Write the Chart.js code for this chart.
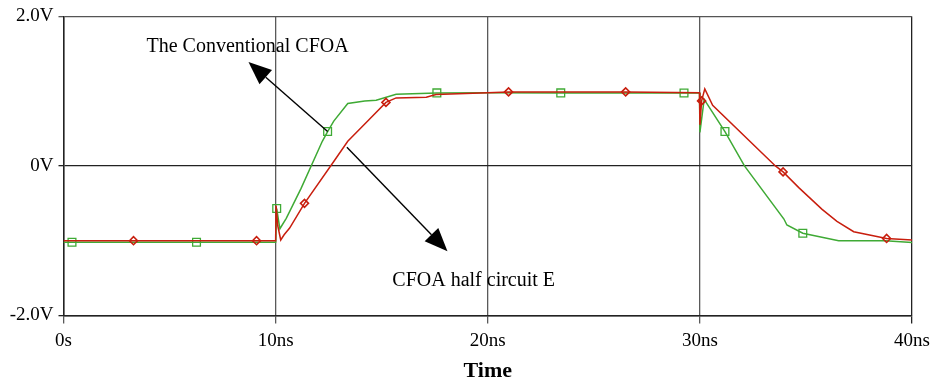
<!DOCTYPE html>
<html>
<head>
<meta charset="utf-8">
<script src="https://cdn.jsdelivr.net/npm/chart.js@4.4.1/dist/chart.umd.min.js"></script>
<style>
    body { margin: 0; background: #fff; }
    #wrap { width: 936px; height: 385px; position: relative; }
</style>
</head>
<body>
<div id="wrap"><canvas id="transient"></canvas></div>
<script>
// time in ns, voltage in V
const redTime = [0, 3.3, 9.1, 10.0, 10.02, 10.1, 10.24, 10.4, 10.66, 11.36, 12.74, 13.4, 14.34, 15.2, 15.68, 17.1, 17.56, 20, 20.98, 26.5, 29.98, 30.0, 30.08, 30.23, 30.6, 33.56, 33.92, 34.66, 35.76, 36.46, 37.25, 38.8, 40];
const redVolt = [-1.0, -1.0, -1.0, -1.0, -0.53, -0.8, -0.99, -0.92, -0.83, -0.5, 0.06, 0.33, 0.6, 0.85, 0.91, 0.92, 0.955, 0.98, 0.99, 0.99, 0.98, 0.55, 0.87, 1.03, 0.81, 0.0, -0.08, -0.29, -0.58, -0.74, -0.88, -0.97, -0.99];
const redMarks = [3.3, 9.1, 11.36, 15.2, 20.98, 26.5, 30.08, 33.92, 38.8];

const greenTime = [0, 0.4, 6.27, 10.0, 10.05, 10.2, 10.5, 11.2, 12.2, 12.45, 12.74, 13.4, 14.2, 14.74, 15.68, 17.6, 20, 23.44, 29.25, 29.98, 30.0, 30.2, 31.18, 32.1, 33.96, 34.1, 34.85, 36.54, 38.74, 40];
const greenVolt = [-1.02, -1.02, -1.02, -1.02, -0.57, -0.84, -0.7, -0.3, 0.33, 0.46, 0.6, 0.835, 0.87, 0.88, 0.96, 0.977, 0.98, 0.977, 0.975, 0.975, 0.45, 0.89, 0.46, 0.0, -0.71, -0.79, -0.9, -1.0, -1.0, -1.025];
const greenMarks = [0.4, 6.27, 10.05, 12.45, 17.6, 23.44, 29.25, 31.18, 34.85];

const xTickLabels = ["0s", "10ns", "20ns", "30ns", "40ns"];
const yTickLabels = { "-2": "-2.0V", "0": "0V", "2": "2.0V" };

const serif = "'Liberation Serif', 'Times New Roman', serif";

function toPoints(ts, vs) {
    return ts.map((t, i) => ({ x: t, y: vs[i] }));
}

// callouts: text label plus arrow from a curve point, in data units
const notes = [
    { text: "The Conventional CFOA", tx: 3.91, ty: 1.59, from: [12.45, 0.46], to: [8.72, 1.39] },
    { text: "CFOA half circuit E", tx: 15.5, ty: -1.54, from: [13.36, 0.25], to: [18.1, -1.14] },
];

const calloutPlugin = {
    id: "callouts",
    afterDatasetsDraw(chart) {
        const { ctx, scales } = chart;
        const sx = scales.x, sy = scales.y;
        ctx.save();
        ctx.fillStyle = "#000";
        ctx.strokeStyle = "#000";
        ctx.font = "20px " + serif;
        ctx.textBaseline = "middle";
        ctx.textAlign = "left";
        notes.forEach((n) => {
            ctx.fillText(n.text, sx.getPixelForValue(n.tx), sy.getPixelForValue(n.ty));
            const x0 = sx.getPixelForValue(n.from[0]), y0 = sy.getPixelForValue(n.from[1]);
            const x1 = sx.getPixelForValue(n.to[0]), y1 = sy.getPixelForValue(n.to[1]);
            const len = Math.hypot(x1 - x0, y1 - y0);
            const ux = (x1 - x0) / len, uy = (y1 - y0) / len;
            const headLen = 23, headHalf = 9.5;
            const bx = x1 - ux * headLen, by = y1 - uy * headLen;
            ctx.lineWidth = 1.4;
            ctx.beginPath();
            ctx.moveTo(x0, y0);
            ctx.lineTo(bx, by);
            ctx.stroke();
            ctx.beginPath();
            ctx.moveTo(x1, y1);
            ctx.lineTo(bx - uy * headHalf, by + ux * headHalf);
            ctx.lineTo(bx + uy * headHalf, by - ux * headHalf);
            ctx.closePath();
            ctx.fill();
        });
        ctx.restore();
    },
};

function markRadius(marks, r) {
    return (c) => (c.raw && marks.includes(c.raw.x) ? r : 0);
}

const config = {
    type: "line",
    data: {
        datasets: [
            {
                label: "CFOA half circuit E",
                data: toPoints(redTime, redVolt),
                borderColor: "#c81e0e",
                borderWidth: 1.5,
                pointStyle: "rectRot",
                pointRadius: markRadius(redMarks, 4),
                pointBorderColor: "#c81e0e",
                pointBackgroundColor: "rgba(255,255,255,0)",
                pointBorderWidth: 1.6,
                tension: 0,
            },
            {
                label: "The Conventional CFOA",
                data: toPoints(greenTime, greenVolt),
                borderColor: "#3faa35",
                borderWidth: 1.5,
                pointStyle: "rect",
                pointRadius: markRadius(greenMarks, 5.5),
                pointBorderColor: "#3faa35",
                pointBackgroundColor: "rgba(255,255,255,0)",
                pointBorderWidth: 1.3,
                tension: 0,
            },
        ],
    },
    options: {
        responsive: true,
        maintainAspectRatio: false,
        animation: false,
        layout: { padding: { top: 14, right: 21, left: 0, bottom: 0 } },
        plugins: {
            legend: { display: false },
            tooltip: { enabled: false },
        },
        scales: {
            x: {
                type: "linear",
                min: 0,
                max: 40,
                afterFit: (s) => { s.height = 69.5; },
                ticks: {
                    stepSize: 10,
                    padding: 6,
                    color: "#000",
                    font: { family: serif, size: 19 },
                    callback: (v) => xTickLabels[v / 10],
                },
                grid: {
                    color: (c) => (c.tick && c.tick.value === 40 ? "#222" : "#5a5a5a"),
                    lineWidth: 1.3,
                    tickLength: 8,
                },
                border: { color: "#222", width: 1.5 },
                title: {
                    display: true,
                    text: "Time",
                    color: "#000",
                    padding: { top: 0, bottom: 0 },
                    font: { family: serif, size: 22, weight: "bold" },
                },
            },
            y: {
                min: -2,
                max: 2,
                afterFit: (s) => { s.width = 63.5; },
                ticks: {
                    stepSize: 2,
                    padding: 5,
                    color: "#000",
                    font: { family: serif, size: 19 },
                    callback: (v) => yTickLabels[String(v)],
                },
                grid: {
                    color: (c) => (c.tick && c.tick.value === 2 ? "#555" : "#222"),
                    lineWidth: 1.3,
                    tickLength: 5,
                },
                border: { color: "#222", width: 1.5 },
            },
        },
    },
    plugins: [calloutPlugin],
};

const transientChart = new Chart(document.getElementById("transient"), config);
</script>
</body>
</html>
